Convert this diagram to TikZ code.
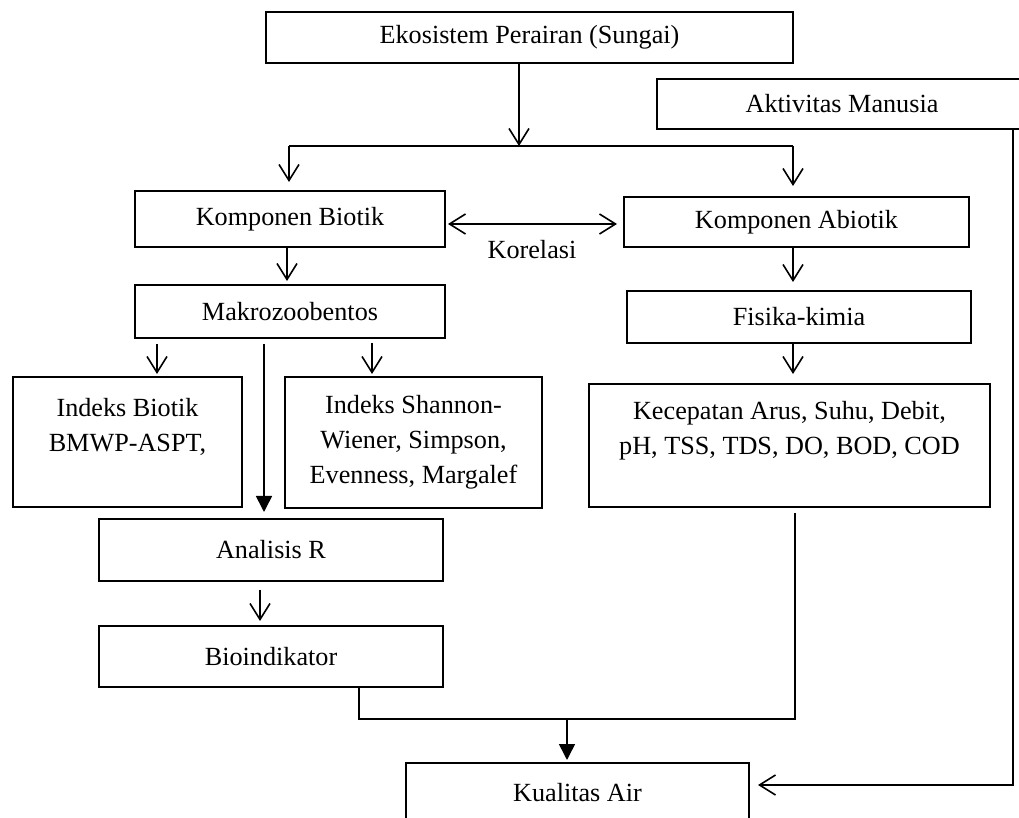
\documentclass[tikz,border=0pt]{standalone}
\usepackage{fontspec}
\setmainfont{Liberation Serif}
\usetikzlibrary{arrows.meta}

\begin{document}
\begin{tikzpicture}[x=0.5pt,y=-0.5pt,line width=0.8pt,font=\fontsize{13.1}{17.5}\selectfont]
        \tikzstyle{box}=[draw=black,line width=1pt,inner sep=0pt,align=center]
        \tikzstyle{open}=[-{Straight Barb[length=8pt,width=10pt]}]
        \tikzstyle{fillarrow}=[-{Triangle[length=8pt,width=8pt]}]
        \useasboundingbox (0,0) rectangle (1019,818);
        \clip (0,0) rectangle (1019,818);

        \node[box,minimum width=263.5pt,minimum height=25.5pt] (eko) at (529.5,37.5) {Ekosistem Perairan (Sungai)};
        \node[box,minimum width=185pt,minimum height=25pt] (akt) at (842,104) {Aktivitas Manusia};
        \node[box,minimum width=155pt,minimum height=28pt] (biotik) at (290,219) {Komponen Biotik};
        \node[box,minimum width=172.5pt,minimum height=25pt] (abiotik) at (796.5,222) {Komponen Abiotik};
        \node (korelasi) at (532,250) {Korelasi};
        \node[box,minimum width=155pt,minimum height=26.5pt] (makro) at (290,311.5) {Makrozoobentos};
        \node[box,minimum width=172pt,minimum height=26pt] (fisika) at (799,317) {Fisika-kimia};
        \node[box,minimum width=114.5pt,minimum height=65pt] (ibiotik) at (127.5,442) {Indeks Biotik\\BMWP-ASPT,\\ \mbox{}};
        \node[box,minimum width=128.5pt,minimum height=65.5pt] (shannon) at (413.5,442.5) {Indeks Shannon-\\Wiener, Simpson,\\Evenness, Margalef};
        \node[box,minimum width=200.5pt,minimum height=61.5pt] (kec) at (789.5,445.5) {Kecepatan Arus, Suhu, Debit,\\pH, TSS, TDS, DO, BOD, COD\\ \mbox{}};
        \node[box,minimum width=172pt,minimum height=31pt] (analisis) at (271,550) {Analisis R};
        \node[box,minimum width=172pt,minimum height=30.5pt] (bioind) at (271,656.5) {Bioindikator};
        \node[box,minimum width=171.5pt,minimum height=47pt] (kualitas) at (577.5,810) {Kualitas Air\\ \mbox{}};

        \coordinate (split) at (519,146);
        \coordinate (bl) at (289,146);
        \coordinate (br) at (793,146);
        \coordinate (join) at (567,719);

        \draw[open] (eko.south -| split) -- (split);
        \draw (bl) -- (br);
        \draw[open,shorten >=4pt] (bl) -- (bl |- biotik.north);
        \draw[open,shorten >=5pt] (br) -- (br |- abiotik.north);
        \draw[{Straight Barb[length=8pt,width=10pt]}-{Straight Barb[length=8pt,width=10pt]},shorten <=1pt,shorten >=3pt]
                ([yshift=-2.5pt]biotik.east) -- ([yshift=-2.5pt]biotik.east -| abiotik.west);

        \foreach \from/\dx/\to/\s/\gap in {biotik/-1.5pt/makro/0pt/1.5pt, makro/-66.5pt/ibiotik/2.5pt/1pt,
                makro/41pt/shannon/2pt/1pt, analisis/-5.5pt/bioind/4pt/2pt,
                abiotik/-1.75pt/fisika/0pt/4pt, fisika/-3pt/kec/0pt/4.5pt}
                \draw[open,shorten <=\s,shorten >=\gap] ([xshift=\dx]\from.south) -- ([xshift=\dx]\from.south |- \to.north);

        \draw[fillarrow,shorten <=2.5pt,shorten >=3pt] ([xshift=-13pt]makro.south) -- ([xshift=-13pt]makro.south |- analisis.north);
        \draw ([xshift=44pt]bioind.south) |- (join) -| ([xshift=2.75pt,yshift=-2.5pt]kec.south);
        \draw[fillarrow,shorten >=1pt] (join) -- (join |- kualitas.north);
        \draw[open,shorten >=4pt] ([xshift=85.5pt]akt.south) |- ([yshift=12.5pt]kualitas.east);
\end{tikzpicture}
\end{document}
